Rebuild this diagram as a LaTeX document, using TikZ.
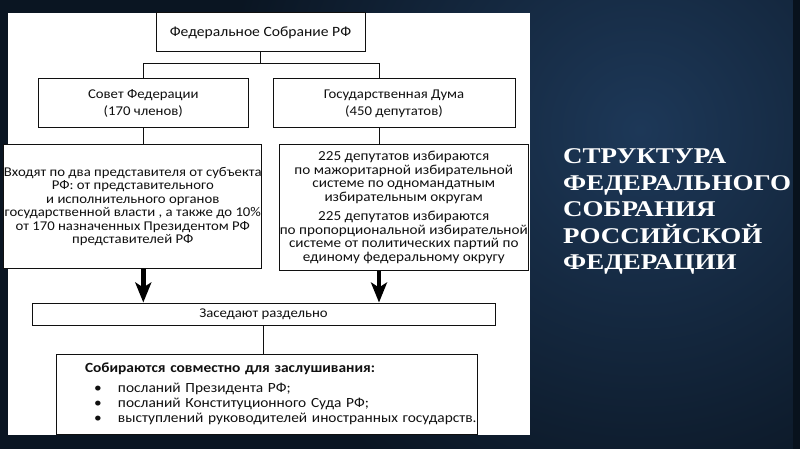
\documentclass[tikz,border=0pt]{standalone}
\usepackage{fontspec}
\setmainfont{Carlito}[FakeStretch=1.1]
\newfontfamily\titlefont{Liberation Serif}[FakeStretch=1.2]
\usetikzlibrary{arrows.meta,calc}
\definecolor{bgin}{HTML}{1D3858}
\definecolor{bgout}{HTML}{0A1522}
\definecolor{ink}{HTML}{101010}
\tikzset{
  boxst/.style={draw=ink, line width=1pt, fill=white, inner sep=0pt, text=ink,
    align=center, font=\fontsize{13.4}{13.5}\selectfont},
  conn/.style={draw=ink, line width=0.9pt},
  bigarrow/.style={draw=black, line width=4.5pt, -{Stealth[length=20pt,width=16pt,inset=5pt]}},
}
\newcommand{\bitem}[1]{\hspace*{37pt}\mbox{\makebox[24pt][l]{•}#1}}
\begin{document}
\begin{tikzpicture}[x=1pt,y=-1pt]
\useasboundingbox (0,0) rectangle (800,449);
% background
\begin{scope}
  \clip (0,0) rectangle (800,449);
  \fill[bgout] (0,0) rectangle (800,449);
  \shade[inner color=bgin, outer color=bgout] (640,130) circle (420);
  \fill[bgout!85!black] (793,0) rectangle (800,449);
\end{scope}
% white panel
\fill[white] (8,13) rectangle (530,435);

% boxes
\node[boxst, minimum width=209pt, minimum height=39pt, font=\fontsize{14.2}{15}\selectfont] (fs) at (260.5,32.5)
  {Федеральное Собрание РФ};
\node[boxst, minimum width=209.4pt, minimum height=49pt] (sf) at (143.3,103.5)
  {Совет Федерации\\[3.5pt](170 членов)};
\node[boxst, minimum width=242pt, minimum height=49pt] (gd) at (394,103.5)
  {Государственная Дума\\[3.5pt](450 депутатов)};
\node[boxst, minimum width=250.4pt, minimum height=123pt] (lt) at (132.8,206.5)
  {Входят по два представителя от субъекта\\
   РФ: от представительного\\
   и исполнительного органов\\
   государственной власти , а также до 10\%\\
   от 170 назначенных Президентом РФ\\
   представителей РФ};
\node[boxst, minimum width=249.5pt, minimum height=125pt, font=\fontsize{13.8}{13.5}\selectfont] (rt) at (403.75,207.5)
  {225 депутатов избираются\\
   по мажоритарной избирательной\\
   системе по одномандатным\\
   избирательным округам\\[6pt]
   225 депутатов избираются\\
   по пропорциональной избирательной\\
   системе от политических партий по\\
   единому федеральному округу};
\node[boxst, minimum width=463pt, minimum height=22pt] (zr) at (263.5,314)
  {Заседают раздельно};
\node[boxst, align=left, text width=419pt, inner xsep=1pt, minimum height=80pt,
      font=\fontsize{14}{15}\selectfont] (sv) at (266.5,394)
  {\hspace*{28pt}\mbox{\bfseries Собираются совместно для заслушивания:}\\[5pt]
   \bitem{посланий Президента РФ;}\\
   \bitem{посланий Конституционного Суда РФ;}\\
   \bitem{выступлений руководителей иностранных государств.}};

% connectors
\coordinate (bus) at (0,63);
\coordinate (gdN) at (379,79);
\draw[conn] (fs.south) -- (fs.south |- bus);
\draw[conn] (sf.north) -- (sf.north |- bus) -- (gdN |- bus) -- (gdN);
\draw[conn] (sf.south) -- (sf.south |- lt.north);
\draw[conn] (gd.south -| gdN) -- (rt.north -| gdN);
\draw[bigarrow] (lt.south -| sf.south) -- (zr.north -| sf.south);
\draw[bigarrow] (rt.south -| gdN) -- (zr.north -| gdN);
\draw[conn] (zr.south) -- (sv.north -| zr.south);

% title
\node[anchor=north west, inner sep=0pt, align=left, text=white,
      font=\titlefont\bfseries\fontsize{22.5}{26.5}\selectfont] (title) at (563,148.5)
  {СТРУКТУРА\\ФЕДЕРАЛЬНОГО\\СОБРАНИЯ\\РОССИЙСКОЙ\\ФЕДЕРАЦИИ};
\end{tikzpicture}
\end{document}
